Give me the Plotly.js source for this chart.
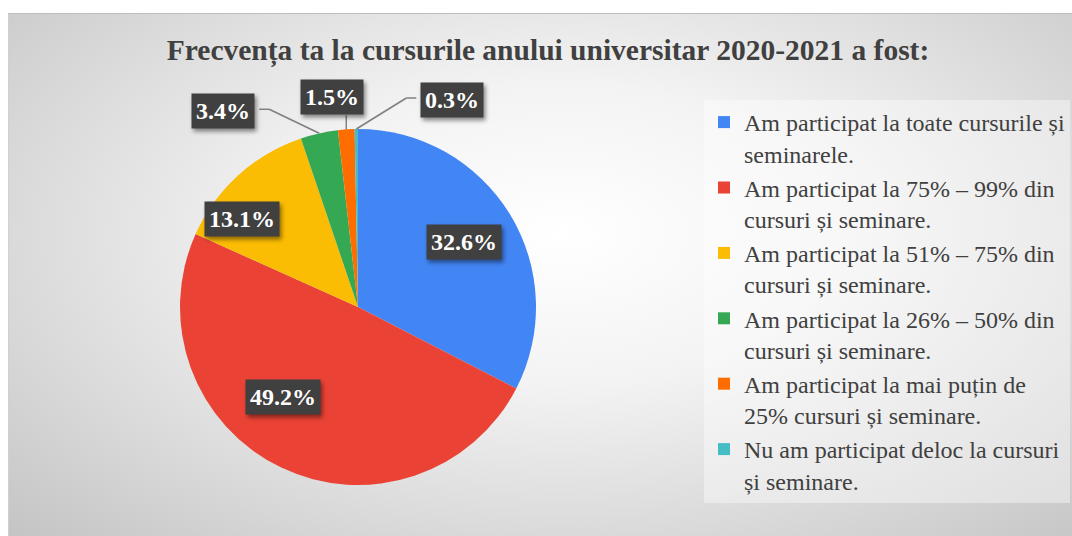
<!DOCTYPE html>
<html>
<head>
<meta charset="utf-8">
<script src="https://cdn.plot.ly/plotly-3.0.1.min.js"></script>
<style>
  html, body { margin: 0; padding: 0; background: #ffffff; }
  #wrap { position: relative; width: 1072px; height: 536px; overflow: hidden; }
  #bg {
    position: absolute; left: 8px; top: 13px; width: 1064px; height: 523px;
    border-top: 1px solid #bdbdbd; border-left: 1px solid #d0d0d0;
    background: radial-gradient(ellipse farthest-corner at 52% 42%, #ffffff 0%, #f3f3f3 35%, #dadada 70%, #c4c4c4 100%);
  }
  #chart { position: absolute; left: 0; top: 0; width: 1072px; height: 536px; }
  .annotation .bg { filter: drop-shadow(2px 3px 2px rgba(0,0,0,0.45)); }
</style>
</head>
<body>
<div id="wrap">
  <div id="bg"></div>
  <div id="chart"></div>
</div>
<script>
// Survey answers: attendance at courses in the 2020-2021 academic year
const categories = [
  'Am participat la toate cursurile și<br>seminarele.',
  'Am participat la 75% – 99% din<br>cursuri și seminare.',
  'Am participat la 51% – 75% din<br>cursuri și seminare.',
  'Am participat la 26% – 50% din<br>cursuri și seminare.',
  'Am participat la mai puțin de<br>25% cursuri și seminare.',
  'Nu am participat deloc la cursuri<br>și seminare.'
];
const shares = [32.6, 49.2, 13.1, 3.4, 1.5, 0.3];
const sliceColors = ['#4285F4', '#EA4335', '#FBBC04', '#34A853', '#FF6D01', '#46BDC6'];
const chartTitle = 'Frecvența ta la cursurile anului universitar 2020-2021 a fost:';

// Page geometry (pixels)
const W = 1072, H = 536;
const cx = 358, cy = 307, R = 178;

// Label placement: inside labels use angle shift (deg) + radius factor,
// outside labels use a pixel offset of the box from the slice edge.
const labelPlacement = [
  { inside: true, dAng: 0, rf: 0.70 },
  { inside: true, dAng: 14, rf: 0.66 },
  { inside: true, dAng: -10.6, rf: 0.82 },
  { inside: false, dx: -96, dy: -22 },
  { inside: false, dx: -14, dy: -32 },
  { inside: false, dx: 96, dy: -29 }
];

const px2x = p => p / W;
const py2y = p => 1 - p / H;

const total = shares.reduce((a, b) => a + b, 0);
let acc = 0;
const annotations = [];
const shapes = [];
const lineStyle = { color: '#7f7f7f', width: 1.5 };
const boxHalfW = 36, boxHalfH = 18;

shares.forEach((v, i) => {
  const midDeg = (acc + v / 2) / total * 360;   // clockwise from 12 o'clock
  acc += v;
  const pl = labelPlacement[i];
  const text = v.toFixed(1) + '%';
  let bx, by;
  if (pl.inside) {
    const a = (midDeg + pl.dAng) * Math.PI / 180;
    bx = cx + pl.rf * R * Math.sin(a);
    by = cy - pl.rf * R * Math.cos(a);
  } else {
    const a = midDeg * Math.PI / 180;
    const ex = cx + R * Math.sin(a);
    const ey = cy - R * Math.cos(a);
    bx = ex + pl.dx;
    by = ey + pl.dy;
    const segs = [];
    if (Math.abs(pl.dx) < 40) {
      segs.push([ex, ey, ex, by + boxHalfH]);
    } else {
      const side = pl.dx < 0 ? 1 : -1;
      const edgeX = bx + side * boxHalfW;
      const elbowX = edgeX + side * 10;
      const lineY = by - 2;
      segs.push([ex, ey, elbowX, lineY]);
      segs.push([elbowX, lineY, edgeX, lineY]);
    }
    segs.forEach(s => shapes.push({
      type: 'line', xref: 'paper', yref: 'paper',
      x0: px2x(s[0]), y0: py2y(s[1]), x1: px2x(s[2]), y1: py2y(s[3]),
      line: lineStyle
    }));
  }
  annotations.push({
    xref: 'paper', yref: 'paper',
    x: px2x(bx), y: py2y(by),
    xanchor: 'center', yanchor: 'middle',
    text: '<b>' + text + '</b>',
    showarrow: false,
    bgcolor: '#404040',
    borderpad: 4,
    font: { family: 'Liberation Serif, Times New Roman, serif', size: 24, color: '#ffffff' }
  });
});

const trace = {
  type: 'pie',
  labels: categories,
  values: shares,
  sort: false,
  direction: 'clockwise',
  rotation: 0,
  textinfo: 'none',
  hoverinfo: 'label+percent',
  marker: { colors: sliceColors, line: { width: 0 } },
  domain: {
    x: [px2x(cx - R), px2x(cx + R)],
    y: [py2y(cy + R), py2y(cy - R)]
  }
};

const layout = {
  width: W, height: H,
  margin: { l: 0, r: 0, t: 0, b: 0 },
  paper_bgcolor: 'rgba(0,0,0,0)',
  plot_bgcolor: 'rgba(0,0,0,0)',
  title: {
    text: '<b>' + chartTitle + '</b>',
    x: px2x(548), y: py2y(50),
    xanchor: 'center', yanchor: 'middle',
    font: { family: 'Liberation Serif, Times New Roman, serif', size: 29.5, color: '#404040' }
  },
  showlegend: true,
  legend: {
    x: px2x(704), y: py2y(100),
    xanchor: 'left', yanchor: 'top',
    bgcolor: 'rgba(255,255,255,0.4)',
    valign: 'top',
    font: { family: 'Liberation Serif, Times New Roman, serif', size: 24, color: '#404040' },
    itemclick: false, itemdoubleclick: false
  },
  annotations: annotations,
  shapes: shapes
};

Plotly.newPlot('chart', [trace], layout, { displayModeBar: false, staticPlot: true });
</script>
</body>
</html>
